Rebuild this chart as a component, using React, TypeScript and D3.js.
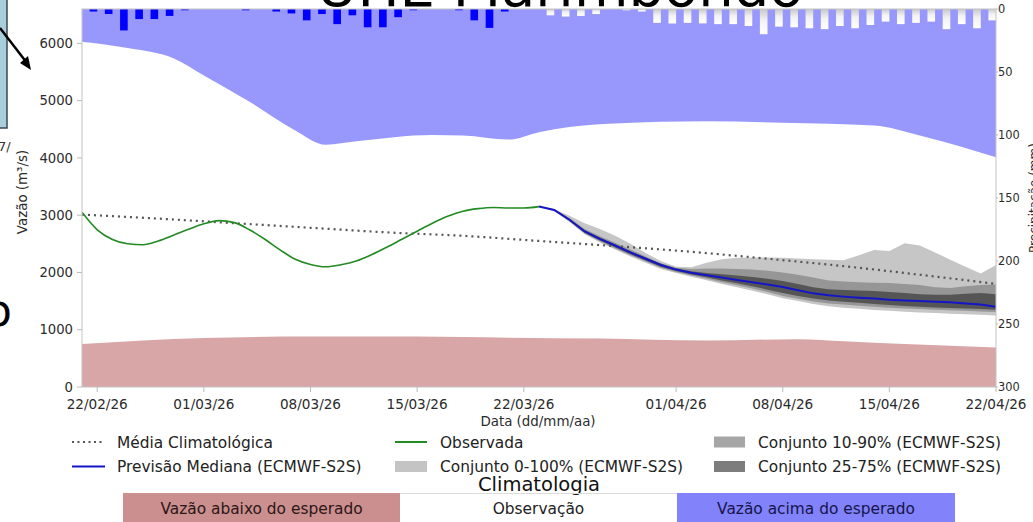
import React from "react";
import * as d3 from "d3";

const FONT = "'DejaVu Sans', sans-serif";
const parse = d3.timeParse("%d/%m/%y")!;

// ---------- data ----------
const firstDay = "21/02/26";
const lastDay = "22/04/26";
const forecastFirstDay = "23/03/26";

const xTickLabels = ["22/02/26", "01/03/26", "08/03/26", "15/03/26", "22/03/26", "01/04/26", "08/04/26", "15/04/26", "22/04/26"];
const flowTicks = [0, 1000, 2000, 3000, 4000, 5000, 6000];
const precipTicks = [0, 50, 100, 150, 200, 250, 300];

// observed flow, daily from 21/02/26
const observedFlow = [3050, 2745, 2575, 2500, 2485, 2550, 2650, 2755, 2850, 2905, 2870, 2745, 2580, 2395, 2230, 2140, 2100, 2135, 2200, 2310, 2440, 2580, 2720, 2860, 2980, 3070, 3115, 3135, 3125, 3125, 3150];

// forecast (ECMWF-S2S), daily from 23/03/26
const forecastMedian = [3150, 3090, 2920, 2715, 2585, 2470, 2350, 2240, 2130, 2050, 1995, 1950, 1910, 1870, 1830, 1790, 1745, 1690, 1635, 1600, 1578, 1560, 1545, 1525, 1512, 1500, 1490, 1478, 1460, 1440, 1400];
const ensMax = [3150, 3110, 2990, 2860, 2760, 2640, 2500, 2340, 2200, 2100, 2090, 2170, 2230, 2255, 2260, 2260, 2255, 2245, 2230, 2220, 2215, 2300, 2390, 2375, 2510, 2470, 2350, 2220, 2100, 1980, 2130];
const ensP90 = [3150, 3100, 2950, 2760, 2630, 2520, 2400, 2280, 2160, 2080, 2060, 2070, 2070, 2060, 2050, 2030, 2000, 1960, 1910, 1860, 1840, 1830, 1820, 1815, 1800, 1780, 1740, 1730, 1760, 1780, 1790];
const ensP75 = [3150, 3095, 2935, 2735, 2605, 2490, 2370, 2260, 2150, 2070, 2020, 1990, 1970, 1945, 1920, 1890, 1850, 1800, 1740, 1705, 1695, 1685, 1675, 1660, 1640, 1620, 1610, 1610, 1630, 1640, 1620];
const ensP25 = [3150, 3085, 2905, 2695, 2560, 2440, 2320, 2210, 2100, 2025, 1965, 1915, 1860, 1810, 1760, 1700, 1640, 1590, 1545, 1510, 1490, 1470, 1450, 1430, 1415, 1400, 1390, 1380, 1370, 1360, 1350];
const ensP10 = [3150, 3080, 2895, 2680, 2545, 2420, 2300, 2190, 2080, 2010, 1945, 1890, 1830, 1775, 1720, 1660, 1590, 1540, 1495, 1460, 1440, 1420, 1400, 1385, 1370, 1360, 1350, 1340, 1330, 1320, 1310];
const ensMin = [3150, 3070, 2880, 2665, 2525, 2400, 2280, 2170, 2060, 1990, 1925, 1865, 1800, 1740, 1680, 1620, 1550, 1500, 1450, 1410, 1385, 1365, 1345, 1330, 1315, 1300, 1290, 1280, 1270, 1260, 1250];

// climatology (days after 21/02/26)
const climMeanDay = [0, 5, 10, 15, 20, 25, 30, 35, 40, 45, 50, 55, 60];
const climMean = [3010, 2940, 2860, 2780, 2700, 2640, 2550, 2460, 2360, 2240, 2110, 1960, 1800];
const climUpperDay = [0, 3, 6, 8, 11, 14, 16, 18, 23, 25, 28, 30, 32, 35, 41, 46, 52, 55, 60];
const climUpper = [6030, 5920, 5740, 5440, 4980, 4480, 4230, 4290, 4400, 4390, 4320, 4450, 4540, 4600, 4640, 4615, 4565, 4390, 4010];
const climLowerDay = [0, 8, 15, 22, 28, 34, 41, 47, 50, 54, 60];
const climLower = [750, 855, 880, 880, 860, 845, 810, 835, 800, 750, 690];

// precipitation (mm), observed daily from 21/02/26, forecast daily from 24/03/26
const precipObserved = [0, 2, 4, 17, 8, 8, 5.5, 1, 0, 0, 0, 1, 0, 2, 3.5, 9, 4, 12, 5, 14.5, 14.5, 6.5, 1, 0, 0, 1, 9, 15, 2, 0];
const precipForecastFirstDay = "24/03/26";
const precipForecast = [5, 6, 5.5, 4, 0, 1, 2, 11, 11.5, 11, 11.4, 12, 12, 13.5, 20, 14, 14.5, 15.3, 16, 13.5, 15.3, 12.7, 10, 12, 11, 10, 16, 12, 15.3, 9];

// ---------- layout ----------
const L = 82, R = 996, T = 9, B = 387;

export default function App() {
  const t0 = parse(firstDay)!;
  const t1 = parse(lastDay)!;
  const tf = parse(forecastFirstDay)!;
  const tpf = parse(precipForecastFirstDay)!;

  const x = d3.scaleTime().domain([t0, t1]).range([L, R]);
  const y = d3.scaleLinear().domain([0, 6600]).range([B, T]);
  const yp = d3.scaleLinear().domain([0, 300]).range([T, B]);

  const dayOf = (base: Date, i: number) => d3.timeDay.offset(base, i);

  const obs = observedFlow.map((v, i) => ({ t: dayOf(t0, i), v }));
  const fc = forecastMedian.map((v, i) => ({
    t: dayOf(tf, i), v, mn: ensMin[i], mx: ensMax[i], p10: ensP10[i], p90: ensP90[i], p25: ensP25[i], p75: ensP75[i],
  }));
  const mean = climMean.map((v, i) => ({ t: dayOf(t0, climMeanDay[i]), v }));
  const upper = climUpper.map((v, i) => ({ t: dayOf(t0, climUpperDay[i]), v }));
  const lower = climLower.map((v, i) => ({ t: dayOf(t0, climLowerDay[i]), v }));

  const lineV = d3.line<{ t: Date; v: number }>().x(d => x(d.t)).y(d => y(d.v));
  const upperArea = d3.area<{ t: Date; v: number }>().x(d => x(d.t)).y0(d => y(d.v)).y1(T).curve(d3.curveMonotoneX);
  const lowerArea = d3.area<{ t: Date; v: number }>().x(d => x(d.t)).y0(B).y1(d => y(d.v)).curve(d3.curveMonotoneX);
  const band = (lo: string, hi: string) =>
    d3.area<any>().x(d => x(d.t)).y0(d => y(d[lo])).y1(d => y(d[hi]))(fc) || "";

  const barObs = precipObserved.map((p, i) => ({ t: dayOf(t0, i), p })).filter(d => d.p > 0);
  const barFc = precipForecast.map((p, i) => ({ t: dayOf(tpf, i), p })).filter(d => d.p > 0);
  const barX0 = (t: Date) => x(d3.timeHour.offset(t, -12));

  const xTicks = xTickLabels.map(s => ({ s, t: parse(s)! }));

  return (
    <svg width={1033} height={522} style={{ position: "absolute", left: 0, top: 0, background: "#fff" }} fontFamily={FONT}>
      <defs>
        <clipPath id="plotclip"><rect x={L} y={T} width={R - L} height={B - T} /></clipPath>
        <linearGradient id="fcbar" x1="0" y1="0" x2="0" y2="1">
          <stop offset="0%" stopColor="#c8c8c8" />
          <stop offset="45%" stopColor="#f2f2f2" />
          <stop offset="100%" stopColor="#ffffff" />
        </linearGradient>
      </defs>
      <rect x={0} y={0} width={1033} height={522} fill="#fff" />

      {/* title (cut off at top) */}
      <text x={560} y={6} fontSize={56} textAnchor="middle" fill="#000">UHE Marimbondo</text>

      {/* surrounding slide fragments */}
      <rect x={-2} y={-2} width={9} height={130} fill="#a9cfdc" stroke="#3a4a50" strokeWidth={1.5} />
      <text x={-2} y={151} fontSize={13} fill="#333">7/</text>
      <line x1={0} y1={28} x2={27} y2={63} stroke="#000" strokeWidth={2.5} />
      <path d="M31,70 L20,63 L28,56 Z" fill="#000" />
      <text x={-15} y={326} fontSize={44} fill="#000">o</text>

      <g clipPath="url(#plotclip)">
        <path d={upperArea(upper) || ""} fill="#9898fc" />
        <path d={lowerArea(lower) || ""} fill="#d8a6a6" />
        <path d={band("mn", "mx")} fill="#c6c6c6" />
        <path d={band("p10", "p90")} fill="#969696" />
        <path d={band("p25", "p75")} fill="#555555" />
        {barObs.map((d, i) => (
          <rect key={"o" + i} x={barX0(d.t)} y={yp(0)} width={x(d.t) - barX0(d.t)} height={yp(d.p) - yp(0)} fill="#0000ff" />
        ))}
        {barFc.map((d, i) => (
          <rect key={"f" + i} x={barX0(d.t)} y={yp(0)} width={x(d.t) - barX0(d.t)} height={yp(d.p) - yp(0)} fill="url(#fcbar)" />
        ))}
        <path d={lineV.curve(d3.curveMonotoneX)(mean) || ""} fill="none" stroke="#555" strokeWidth={2.2} strokeDasharray="2,4" />
        <path d={lineV.curve(d3.curveMonotoneX)(obs) || ""} fill="none" stroke="#228b22" strokeWidth={1.6} />
        <path d={lineV.curve(d3.curveLinear)(fc) || ""} fill="none" stroke="#1515c8" strokeWidth={2} />
      </g>

      {/* frame */}
      <rect x={L} y={T} width={R - L} height={B - T} fill="none" stroke="#c4c4c4" strokeWidth={1} />

      {/* left axis */}
      {flowTicks.map(v => (
        <g key={"yl" + v}>
          <line x1={L - 5} x2={L} y1={y(v)} y2={y(v)} stroke="#bbb" />
          <text x={L - 9} y={y(v)} dy="0.35em" fontSize={13.2} textAnchor="end" fill="#2b2b2b">{v}</text>
        </g>
      ))}
      <text transform={`translate(27,192) rotate(-90)`} fontSize={13.4} textAnchor="middle" fill="#2b2b2b">Vazão (m³/s)</text>

      {/* right axis */}
      {precipTicks.map(v => (
        <g key={"yr" + v}>
          <line x1={R} x2={R + 2} y1={yp(v)} y2={yp(v)} stroke="#bbb" />
          <text x={R + 2} y={yp(v)} dy="0.35em" fontSize={11.4} textAnchor="start" fill="#2b2b2b">{v}</text>
        </g>
      ))}
      <text transform={`translate(1038,198) rotate(-90)`} fontSize={12} textAnchor="middle" fill="#2b2b2b">Precipitação (mm)</text>

      {/* bottom axis */}
      {xTicks.map(d => (
        <g key={d.s}>
          <line x1={x(d.t)} x2={x(d.t)} y1={B} y2={B + 5} stroke="#bbb" />
          <text x={x(d.t)} y={B + 22} fontSize={13.6} textAnchor="middle" fill="#2b2b2b">{d.s}</text>
        </g>
      ))}
      <text x={538} y={426} fontSize={13.4} textAnchor="middle" fill="#2b2b2b">Data (dd/mm/aa)</text>

      {/* legend */}
      <g fontSize={15.4} fill="#222">
        <line x1={72} x2={105} y1={442} y2={442} stroke="#555" strokeWidth={2} strokeDasharray="2,3.5" />
        <text x={117} y={447.5}>Média Climatológica</text>
        <line x1={72} x2={105} y1={466.5} y2={466.5} stroke="#1515c8" strokeWidth={2} />
        <text x={117} y={472}>Previsão Mediana (ECMWF-S2S)</text>

        <line x1={395} x2={427} y1={442} y2={442} stroke="#228b22" strokeWidth={2} />
        <text x={440} y={447.5}>Observada</text>
        <rect x={395} y={461} width={32} height={11} fill="#c4c4c4" />
        <text x={440} y={472}>Conjunto 0-100% (ECMWF-S2S)</text>

        <rect x={714} y={436.5} width={31} height={11} fill="#a6a6a6" />
        <text x={758} y={447.5}>Conjunto 10-90% (ECMWF-S2S)</text>
        <rect x={714} y={461} width={31} height={11} fill="#7d7d7d" />
        <text x={758} y={472}>Conjunto 25-75% (ECMWF-S2S)</text>
      </g>

      {/* climatology legend */}
      <text x={539} y={491} fontSize={19.5} textAnchor="middle" fill="#111">Climatologia</text>
      <line x1={400} x2={677} y1={493.5} y2={493.5} stroke="#dcdcdc" />
      <rect x={123} y={493} width={277} height={35} fill="#cc8f8f" />
      <text x={261.5} y={514} fontSize={15.4} textAnchor="middle" fill="#2a1616">Vazão abaixo do esperado</text>
      <text x={538.5} y={514} fontSize={15.4} textAnchor="middle" fill="#222">Observação</text>
      <rect x={677} y={493} width={278} height={35} fill="#8282fb" />
      <text x={816} y={514} fontSize={15.4} textAnchor="middle" fill="#15154a">Vazão acima do esperado</text>
    </svg>
  );
}
